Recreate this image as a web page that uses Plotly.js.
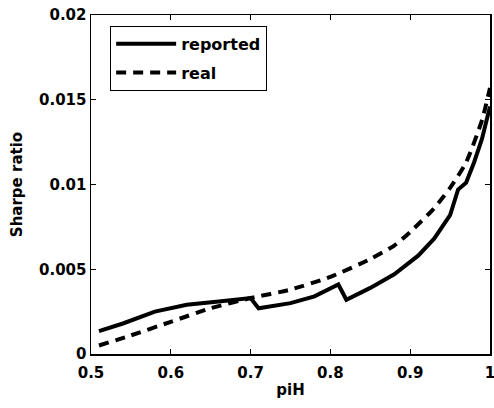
<!DOCTYPE html>
<html>
<head>
<meta charset="utf-8">
<script src="https://cdn.plot.ly/plotly-3.0.1.min.js"></script>
<style>html,body{margin:0;padding:0;background:#fff;}#chart{width:494px;height:408px;}</style>
</head>
<body>
<div id="chart"></div>
<script>
const reportedX = [0.51, 0.54, 0.58, 0.62, 0.66, 0.70, 0.71, 0.75, 0.78, 0.81, 0.82, 0.85, 0.88, 0.91, 0.93, 0.95, 0.96, 0.97, 0.98, 0.99, 1.0];
const reportedY = [0.00135, 0.0018, 0.0025, 0.0029, 0.0031, 0.0033, 0.0027, 0.0030, 0.0034, 0.0041, 0.0032, 0.0039, 0.0047, 0.0058, 0.0068, 0.0082, 0.0097, 0.0101, 0.0113, 0.0127, 0.0146];
const realX = [0.51, 0.55, 0.60, 0.65, 0.70, 0.75, 0.80, 0.85, 0.88, 0.90, 0.93, 0.95, 0.97, 0.99, 1.0];
const realY = [0.0005, 0.0011, 0.0019, 0.0027, 0.0033, 0.0038, 0.00455, 0.0056, 0.0064, 0.0072, 0.0086, 0.0098, 0.0113, 0.0138, 0.0157];
const seriesNames = ["reported", "real"];
const xTicks = [0.5, 0.6, 0.7, 0.8, 0.9, 1];
const yTicks = [0, 0.005, 0.01, 0.015, 0.02];

const font = {family: "DejaVu Sans", size: 15, color: "#000", weight: "bold"};
const legendFont = {family: "DejaVu Sans", size: 16, color: "#000", weight: "bold"};

const traces = [
  {x: reportedX, y: reportedY, name: seriesNames[0], mode: "lines", legendgroup: "a",
   line: {color: "#000", width: 4, dash: "solid"}},
  {x: realX, y: realY, name: seriesNames[1], mode: "lines", legendgroup: "b",
   line: {color: "#000", width: 4, dash: "10px,7px", shape: "spline", smoothing: 0.6}}
];

const axisCommon = {
  showgrid: false, zeroline: false, showline: true, mirror: "ticks",
  linecolor: "#000", linewidth: 1.5, ticks: "inside", ticklen: 5, tickcolor: "#000",
  tickfont: font, ticklabeloverflow: "allow"
};

const layout = {
  width: 494, height: 408,
  margin: {l: 91, r: 4, t: 15, b: 54},
  paper_bgcolor: "#fff", plot_bgcolor: "#fff",
  font: font,
  showlegend: true,
  legend: {x: 0.048, y: 0.968, xanchor: "left", yanchor: "top",
    bgcolor: "#fff", bordercolor: "#000", borderwidth: 1,
    font: legendFont, itemwidth: 60, traceorder: "grouped", tracegroupgap: 5},
  xaxis: Object.assign({}, axisCommon, {
    range: [0.5, 1], tickvals: xTicks, ticktext: xTicks.map(String),
    ticklabelstandoff: 4,
    title: {text: "piH", font: font, standoff: 4}
  }),
  yaxis: Object.assign({}, axisCommon, {
    range: [0, 0.02], tickvals: yTicks, ticktext: yTicks.map(String),
    title: {text: "Sharpe ratio", font: font, standoff: 13}
  })
};

Plotly.newPlot("chart", traces, layout, {displayModeBar: false, staticPlot: true});
</script>
</body>
</html>
